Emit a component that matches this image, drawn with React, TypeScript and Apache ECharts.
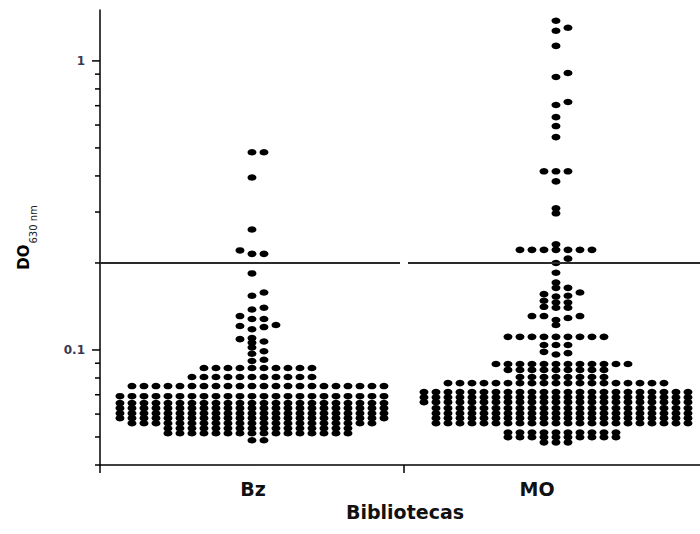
import React, { useEffect, useRef } from 'react';
import * as echarts from 'echarts';

// ---------- data ----------
const categories = ['Bz', 'MO'];

const bzValues = [
  0.483, 0.483,
  0.395,
  0.261,
  0.221, 0.215, 0.215,
  0.184,
  0.158, 0.154,
  0.140, 0.138,
  0.131, 0.128, 0.128,
  0.122, 0.121, 0.120, 0.118,
  0.110, 0.109, 0.107, 0.106,
  0.102, 0.099, 0.097,
  0.0925, 0.0916,
  0.0866, 0.0866, 0.0866, 0.0866, 0.0866, 0.0866, 0.0866, 0.0866, 0.0866, 0.0866,
  0.0806, 0.0806, 0.0806, 0.0806, 0.0806, 0.0806, 0.0806, 0.0806, 0.0806, 0.0806, 0.0806,
  0.075, 0.075, 0.075, 0.075, 0.075, 0.075, 0.075, 0.075, 0.075, 0.075, 0.075,
  0.075, 0.075, 0.075, 0.075, 0.075, 0.075, 0.075, 0.075, 0.075, 0.075, 0.075,
  0.0692, 0.0692, 0.0692, 0.0692, 0.0692, 0.0692, 0.0692, 0.0692, 0.0692, 0.0692, 0.0692, 0.0692,
  0.0692, 0.0692, 0.0692, 0.0692, 0.0692, 0.0692, 0.0692, 0.0692, 0.0692, 0.0692, 0.0692,
  0.0655, 0.0655, 0.0655, 0.0655, 0.0655, 0.0655, 0.0655, 0.0655, 0.0655, 0.0655, 0.0655, 0.0655,
  0.0655, 0.0655, 0.0655, 0.0655, 0.0655, 0.0655, 0.0655, 0.0655, 0.0655, 0.0655, 0.0655,
  0.0629, 0.0629, 0.0629, 0.0629, 0.0629, 0.0629, 0.0629, 0.0629, 0.0629, 0.0629, 0.0629, 0.0629,
  0.0629, 0.0629, 0.0629, 0.0629, 0.0629, 0.0629, 0.0629, 0.0629, 0.0629, 0.0629, 0.0629,
  0.0604, 0.0604, 0.0604, 0.0604, 0.0604, 0.0604, 0.0604, 0.0604, 0.0604, 0.0604, 0.0604, 0.0604,
  0.0604, 0.0604, 0.0604, 0.0604, 0.0604, 0.0604, 0.0604, 0.0604, 0.0604, 0.0604, 0.0604,
  0.0581, 0.0581, 0.0581, 0.0581, 0.0581, 0.0581, 0.0581, 0.0581, 0.0581, 0.0581, 0.0581, 0.0581,
  0.0581, 0.0581, 0.0581, 0.0581, 0.0581, 0.0581, 0.0581, 0.0581, 0.0581, 0.0581, 0.0581,
  0.0558, 0.0558, 0.0558, 0.0558, 0.0558, 0.0558, 0.0558, 0.0558, 0.0558, 0.0558, 0.0558,
  0.0558, 0.0558, 0.0558, 0.0558, 0.0558, 0.0558, 0.0558, 0.0558, 0.0558, 0.0558,
  0.0536, 0.0536, 0.0536, 0.0536, 0.0536, 0.0536, 0.0536, 0.0536,
  0.0536, 0.0536, 0.0536, 0.0536, 0.0536, 0.0536, 0.0536, 0.0536,
  0.0515, 0.0515, 0.0515, 0.0515, 0.0515, 0.0515, 0.0515, 0.0515,
  0.0515, 0.0515, 0.0515, 0.0515, 0.0515, 0.0515, 0.0515, 0.0515,
  0.0487, 0.0487,
];

const moValues = [
  1.377, 1.302, 1.271,
  1.127,
  0.908, 0.880,
  0.721, 0.704,
  0.639,
  0.595, 0.545,
  0.415, 0.415, 0.415, 0.383,
  0.309, 0.297,
  0.232, 0.222, 0.222, 0.222, 0.222, 0.222, 0.222, 0.222,
  0.207, 0.200,
  0.185,
  0.171, 0.164, 0.164,
  0.158, 0.156, 0.154, 0.153, 0.148,
  0.146, 0.146, 0.141, 0.140, 0.140,
  0.131, 0.131, 0.131, 0.129, 0.127, 0.122,
  0.111, 0.111, 0.111, 0.111, 0.111, 0.111, 0.111, 0.111, 0.111,
  0.104, 0.104, 0.104,
  0.0985, 0.0975, 0.0965,
  0.0894, 0.0894, 0.0894, 0.0894, 0.0894, 0.0894, 0.0894, 0.0894, 0.0894, 0.0894, 0.0894, 0.0894,
  0.0853, 0.0853, 0.0853, 0.0853, 0.0853, 0.0853, 0.0853, 0.0853, 0.0853,
  0.0806, 0.0806, 0.0806, 0.0806, 0.0806, 0.0806, 0.0806, 0.0806,
  0.0768, 0.0768, 0.0768, 0.0768, 0.0768, 0.0768, 0.0768, 0.0768, 0.0768, 0.0768,
  0.0768, 0.0768, 0.0768, 0.0768, 0.0768, 0.0768, 0.0768, 0.0768, 0.0768,
  0.0715, 0.0715, 0.0715, 0.0715, 0.0715, 0.0715, 0.0715, 0.0715, 0.0715, 0.0715, 0.0715, 0.0715,
  0.0715, 0.0715, 0.0715, 0.0715, 0.0715, 0.0715, 0.0715, 0.0715, 0.0715, 0.0715, 0.0715,
  0.0686, 0.0686, 0.0686, 0.0686, 0.0686, 0.0686, 0.0686, 0.0686, 0.0686, 0.0686, 0.0686, 0.0686,
  0.0686, 0.0686, 0.0686, 0.0686, 0.0686, 0.0686, 0.0686, 0.0686, 0.0686, 0.0686, 0.0686,
  0.066, 0.066, 0.066, 0.066, 0.066, 0.066, 0.066, 0.066, 0.066, 0.066, 0.066, 0.066,
  0.066, 0.066, 0.066, 0.066, 0.066, 0.066, 0.066, 0.066, 0.066, 0.066, 0.066,
  0.0629, 0.0629, 0.0629, 0.0629, 0.0629, 0.0629, 0.0629, 0.0629, 0.0629, 0.0629, 0.0629,
  0.0629, 0.0629, 0.0629, 0.0629, 0.0629, 0.0629, 0.0629, 0.0629, 0.0629, 0.0629, 0.0629,
  0.0604, 0.0604, 0.0604, 0.0604, 0.0604, 0.0604, 0.0604, 0.0604, 0.0604, 0.0604, 0.0604,
  0.0604, 0.0604, 0.0604, 0.0604, 0.0604, 0.0604, 0.0604, 0.0604, 0.0604, 0.0604, 0.0604,
  0.0581, 0.0581, 0.0581, 0.0581, 0.0581, 0.0581, 0.0581, 0.0581, 0.0581, 0.0581, 0.0581,
  0.0581, 0.0581, 0.0581, 0.0581, 0.0581, 0.0581, 0.0581, 0.0581, 0.0581, 0.0581, 0.0581,
  0.0558, 0.0558, 0.0558, 0.0558, 0.0558, 0.0558, 0.0558, 0.0558, 0.0558, 0.0558, 0.0558,
  0.0558, 0.0558, 0.0558, 0.0558, 0.0558, 0.0558, 0.0558, 0.0558, 0.0558, 0.0558, 0.0558,
  0.0518, 0.0518, 0.0518, 0.0518, 0.0518, 0.0518, 0.0518, 0.0518, 0.0518, 0.0518,
  0.0499, 0.0499, 0.0499, 0.0499, 0.0499, 0.0499, 0.0499, 0.0499, 0.0499, 0.0499,
  0.0479, 0.0479, 0.0479,
];

const cutoffValue = 0.2;
const majorTickValues = [0.1, 1];
const minorTickValues = [0.04, 0.05, 0.06, 0.07, 0.08, 0.09, 0.2, 0.3, 0.4, 0.5, 0.6, 0.7, 0.8, 0.9];
const categoryBoundaries = [0, 1, 2];
const yMin = 0.04;
const yMax = 1.5;

// ---------- layout (not data) ----------
const W = 700;
const H = 534;
const GRID = { left: 100, right: 0, top: 10, bottom: 69 };
const gridW = W - GRID.left - GRID.right;
const gridH = H - GRID.top - GRID.bottom;
// the original plot is cropped on the right: each category is 304 px wide
const CATEGORY_PX = 304;
const xMax = gridW / CATEGORY_PX;
const pxPerDecade = gridH / (Math.log10(yMax) - Math.log10(yMin));
const DOT_STEP_PX = 12;
const COLLIDE_PX = 4.5;

// Prism-like column scatter: each point takes the grid column nearest the centre
// (0, +1, -1, +2, -2 ...) where it does not overlap an already placed point.
function swarm(values: number[], center: number): number[][] {
  const sorted = [...values].sort((a, b) => a - b);
  const thr = COLLIDE_PX / pxPerDecade;
  const step = DOT_STEP_PX / CATEGORY_PX;
  const placed: { col: number; ly: number }[] = [];
  const out: number[][] = [];
  for (const v of sorted) {
    const ly = Math.log10(v);
    for (let k = 0; k < 200; k++) {
      const col = k === 0 ? 0 : k % 2 === 1 ? (k + 1) / 2 : -k / 2;
      const hit = placed.some((p) => p.col === col && Math.abs(p.ly - ly) < thr);
      if (!hit) {
        placed.push({ col, ly });
        out.push([center + col * step, v]);
        break;
      }
    }
  }
  return out;
}

const FONT = 'DejaVu Sans';

export default function App() {
  const ref = useRef<HTMLDivElement>(null);

  useEffect(() => {
    document.body.style.margin = '0';
    if (!ref.current) return;
    const chart = echarts.init(ref.current, undefined, { renderer: 'svg' });

    const gap = 4 / CATEGORY_PX;
    const dotStyle = { color: '#000', opacity: 1 };
    const lineStyle = { color: '#2a2a2a', width: 2, type: 'solid' as const, opacity: 1 };
    const tickBase = {
      type: 'scatter' as const,
      xAxisIndex: 1,
      yAxisIndex: 0,
      symbol: 'rect',
      silent: true,
      clip: false,
      z: 10,
      itemStyle: { color: '#000', opacity: 1 },
      emphasis: { disabled: true },
    };

    chart.setOption({
      animation: false,
      textStyle: { fontFamily: FONT },
      grid: { ...GRID, containLabel: false },
      xAxis: [
        {
          type: 'category',
          data: categories,
          boundaryGap: true,
          position: 'bottom',
          axisLine: { lineStyle: { color: '#000', width: 1.5 } },
          axisTick: { show: false },
          axisLabel: {
            margin: 14,
            formatter: (v: string) => (v === 'MO' ? '{m|MO}' : '{b|' + v + '}'),
            rich: {
              b: { fontSize: 19, fontWeight: 'bold', fontFamily: FONT, color: '#111', padding: [0, 0, 0, 6] },
              m: { fontSize: 19, fontWeight: 'bold', fontFamily: FONT, color: '#111', padding: [0, 26, 0, 0] },
            },
          },
          name: 'Bibliotecas',
          nameLocation: 'middle',
          nameGap: 33,
          nameTextStyle: {
            fontSize: 19,
            fontWeight: 'bold',
            fontFamily: FONT,
            color: '#111',
            padding: [0, 0, 0, 10],
          },
          splitLine: { show: false },
        },
        {
          type: 'value',
          min: 0,
          max: xMax,
          show: false,
          splitLine: { show: false },
        },
      ],
      yAxis: [
        {
          type: 'log',
          logBase: 10,
          min: yMin,
          max: yMax,
          axisLine: { show: true, lineStyle: { color: '#000', width: 1.5 } },
          axisTick: { show: false },
          axisLabel: {
            show: true,
            customValues: majorTickValues,
            margin: 15,
            fontSize: 12,
            fontWeight: 'bold',
            color: '#3a3852',
            formatter: (v: number) => String(v),
          },
          splitLine: { show: false },
          name: '{a|DO}{b|630 nm}',
          nameLocation: 'middle',
          nameRotate: 90,
          nameGap: 62,
          nameTextStyle: {
            rich: {
              a: { fontSize: 15, fontWeight: 'bold', fontFamily: FONT, color: '#000', lineHeight: 18, verticalAlign: 'top' },
              b: { fontSize: 10, fontFamily: FONT, color: '#222', verticalAlign: 'bottom', padding: [12, 0, 0, 1] },
            },
          },
        },
      ],
      series: [
        {
          name: categories[0],
          type: 'scatter',
          xAxisIndex: 1,
          yAxisIndex: 0,
          symbol: 'circle',
          symbolSize: [9, 6.5],
          itemStyle: dotStyle,
          data: swarm(bzValues, 0.5),
          markLine: {
            silent: true,
            symbol: ['none', 'none'],
            label: { show: false },
            lineStyle,
            data: [[{ coord: [0, cutoffValue] }, { coord: [1 - gap, cutoffValue] }]],
          },
        },
        {
          name: categories[1],
          type: 'scatter',
          xAxisIndex: 1,
          yAxisIndex: 0,
          symbol: 'circle',
          symbolSize: [9, 6.5],
          itemStyle: dotStyle,
          data: swarm(moValues, 1.5),
          markLine: {
            silent: true,
            symbol: ['none', 'none'],
            label: { show: false },
            lineStyle,
            data: [[{ coord: [1 + gap, cutoffValue] }, { coord: [xMax, cutoffValue] }]],
          },
        },
        // axis ticks, placed on the axes through the same scales
        {
          ...tickBase,
          name: 'majorTicks',
          symbolSize: [8, 1.5],
          symbolOffset: [-4, 0],
          data: majorTickValues.map((v) => [0, v]),
        },
        {
          ...tickBase,
          name: 'minorTicks',
          symbolSize: [5, 1.5],
          symbolOffset: [-2.5, 0],
          data: minorTickValues.map((v) => [0, v]),
        },
        {
          ...tickBase,
          name: 'categoryTicks',
          symbolSize: [1.5, 8],
          symbolOffset: [0, 4],
          data: categoryBoundaries.filter((b) => b < xMax).map((b) => [b, yMin]),
        },
      ],
    });

    return () => chart.dispose();
  }, []);

  return <div ref={ref} style={{ width: W, height: H }} />;
}
